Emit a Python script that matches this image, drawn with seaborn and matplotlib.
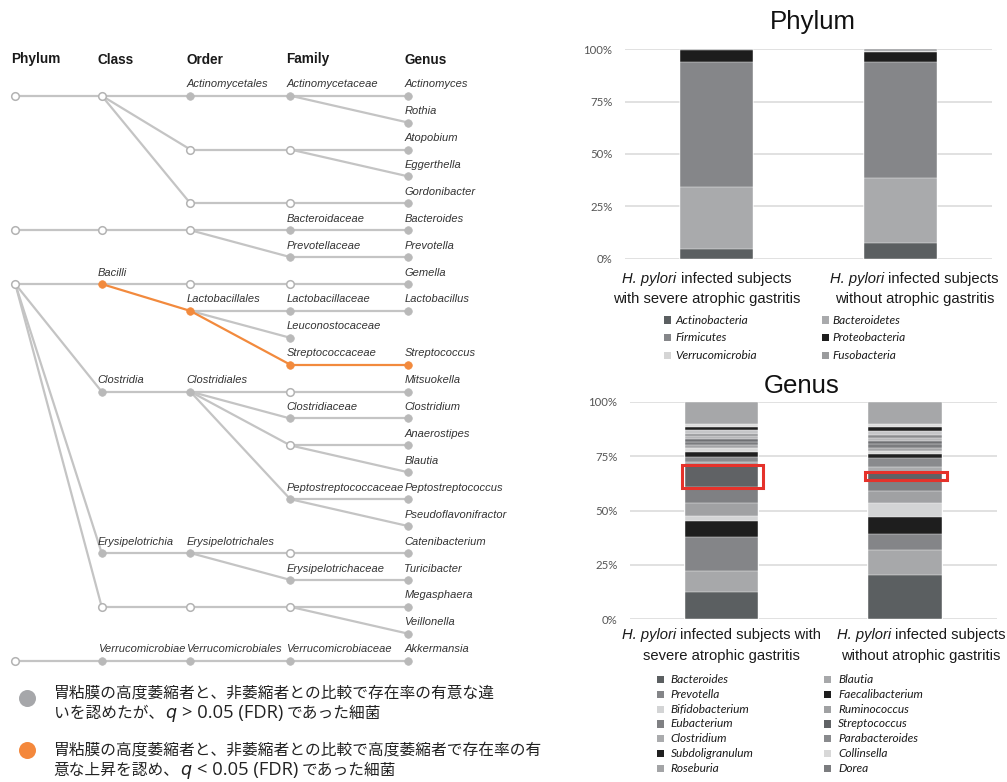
import matplotlib
matplotlib.use("Agg")
import matplotlib.pyplot as plt
from matplotlib.transforms import IdentityTransform
from matplotlib.patches import Rectangle
import pandas as pd
import seaborn as sns

sns.set_theme(style="white")
plt.rcParams["font.family"] = ["Liberation Sans", "DejaVu Sans"]

W, H = 1007, 782

# ---------------------------------------------------------------- data
groups = ["severe", "without"]

phylum_names = ["Actinobacteria", "Bacteroidetes", "Firmicutes",
                "Proteobacteria", "Verrucomicrobia", "Fusobacteria"]
phylum_severe = [4.5, 29.9, 59.4, 5.9, 0.1, 0.2]
phylum_without = [7.6, 30.8, 55.7, 4.5, 0.6, 0.8]
phylum_colors = ["#5b5f61", "#a9aaac", "#858689", "#1d1d1d", "#d5d5d5", "#9a9b9d"]

genus_names = ["Bacteroides", "Blautia", "Prevotella", "Faecalibacterium",
               "Bifidobacterium", "Ruminococcus", "Eubacterium", "Streptococcus",
               "Clostridium", "Parabacteroides", "Subdoligranulum", "Collinsella",
               "Roseburia", "Dorea"]
genus_severe = [12.4, 9.7, 15.7, 7.6, 2.3, 6.0, 7.0, 10.0, 1.8, 2.0, 2.5, 1.7, 1.6, 1.5]
genus_without = [20.4, 11.5, 7.2, 7.8, 6.4, 5.9, 5.1, 3.2, 2.6, 4.0, 1.8, 1.4, 1.6, 1.8]
genus_colors = ["#5b5f61", "#a7a8aa", "#848588", "#1e1e1e", "#d3d4d5", "#a0a1a3",
                "#7f8083", "#606265", "#aaabad", "#898a8d", "#202020", "#d8d8d8",
                "#a3a4a6", "#7b7c7f"]

# remaining genera (not listed in the key)
minor_ids = ["minor1", "minor2", "minor3", "minor4", "minor5", "minor6", "minor7"]
minor_severe = [1.2, 1.2, 1.0, 1.9, 1.5, 1.1, 10.3]
minor_without = [1.2, 1.5, 1.6, 1.8, 1.6, 1.3, 10.3]
minor_colors = ["#6f7073", "#b6b7b9", "#8a8b8e", "#c5c6c8", "#1f1f1f", "#dcdcdc", "#a6a7a9"]

highlight_genus = "Streptococcus"

pct_ticks = [0, 25, 50, 75, 100]
pct_labels = ["0%", "25%", "50%", "75%", "100%"]

# taxonomy tree: (node id, rank index, row, label, status)
ranks = ["Phylum", "Class", "Order", "Family", "Genus"]
tree_nodes = [
    ("p1", 0, 0, "", "open"),
    ("c1", 1, 0, "", "open"),
    ("o1", 2, 0, "Actinomycetales", "ns"),
    ("f1", 3, 0, "Actinomycetaceae", "ns"),
    ("g1", 4, 0, "Actinomyces", "ns"),
    ("g2", 4, 1, "Rothia", "ns"),
    ("o2", 2, 2, "", "open"),
    ("f2", 3, 2, "", "open"),
    ("g3", 4, 2, "Atopobium", "ns"),
    ("g4", 4, 3, "Eggerthella", "ns"),
    ("o3", 2, 4, "", "open"),
    ("f3", 3, 4, "", "open"),
    ("g5", 4, 4, "Gordonibacter", "ns"),
    ("p2", 0, 5, "", "open"),
    ("c2", 1, 5, "", "open"),
    ("o4", 2, 5, "", "open"),
    ("f4", 3, 5, "Bacteroidaceae", "ns"),
    ("g6", 4, 5, "Bacteroides", "ns"),
    ("f5", 3, 6, "Prevotellaceae", "ns"),
    ("g7", 4, 6, "Prevotella", "ns"),
    ("p3", 0, 7, "", "open"),
    ("c3", 1, 7, "Bacilli", "sig"),
    ("o5", 2, 7, "", "open"),
    ("f6", 3, 7, "", "open"),
    ("g8", 4, 7, "Gemella", "ns"),
    ("o6", 2, 8, "Lactobacillales", "sig"),
    ("f7", 3, 8, "Lactobacillaceae", "ns"),
    ("g9", 4, 8, "Lactobacillus", "ns"),
    ("f8", 3, 9, "Leuconostocaceae", "ns"),
    ("f9", 3, 10, "Streptococcaceae", "sig"),
    ("g10", 4, 10, "Streptococcus", "sig"),
    ("c4", 1, 11, "Clostridia", "ns"),
    ("o7", 2, 11, "Clostridiales", "ns"),
    ("f10", 3, 11, "", "open"),
    ("g11", 4, 11, "Mitsuokella", "ns"),
    ("f11", 3, 12, "Clostridiaceae", "ns"),
    ("g12", 4, 12, "Clostridium", "ns"),
    ("f12", 3, 13, "", "open"),
    ("g13", 4, 13, "Anaerostipes", "ns"),
    ("g14", 4, 14, "Blautia", "ns"),
    ("f13", 3, 15, "Peptostreptococcaceae", "ns"),
    ("g15", 4, 15, "Peptostreptococcus", "ns"),
    ("g16", 4, 16, "Pseudoflavonifractor", "ns"),
    ("c5", 1, 17, "Erysipelotrichia", "ns"),
    ("o8", 2, 17, "Erysipelotrichales", "ns"),
    ("f14", 3, 17, "", "open"),
    ("g17", 4, 17, "Catenibacterium", "ns"),
    ("f15", 3, 18, "Erysipelotrichaceae", "ns"),
    ("g18", 4, 18, "Turicibacter", "ns"),
    ("c6", 1, 19, "", "open"),
    ("o9", 2, 19, "", "open"),
    ("f16", 3, 19, "", "open"),
    ("g19", 4, 19, "Megasphaera", "ns"),
    ("g20", 4, 20, "Veillonella", "ns"),
    ("p4", 0, 21, "", "open"),
    ("c7", 1, 21, "Verrucomicrobiae", "ns"),
    ("o10", 2, 21, "Verrucomicrobiales", "ns"),
    ("f17", 3, 21, "Verrucomicrobiaceae", "ns"),
    ("g21", 4, 21, "Akkermansia", "ns"),
]
tree_edges = [
    ("p1", "c1"), ("c1", "o1"), ("o1", "f1"), ("f1", "g1"), ("f1", "g2"),
    ("c1", "o2"), ("o2", "f2"), ("f2", "g3"), ("f2", "g4"),
    ("c1", "o3"), ("o3", "f3"), ("f3", "g5"),
    ("p2", "c2"), ("c2", "o4"), ("o4", "f4"), ("f4", "g6"), ("o4", "f5"), ("f5", "g7"),
    ("p3", "c3"), ("c3", "o5"), ("o5", "f6"), ("f6", "g8"),
    ("c3", "o6"), ("o6", "f7"), ("f7", "g9"), ("o6", "f8"), ("o6", "f9"), ("f9", "g10"),
    ("p3", "c4"), ("c4", "o7"), ("o7", "f10"), ("f10", "g11"),
    ("o7", "f11"), ("f11", "g12"), ("o7", "f12"), ("f12", "g13"), ("f12", "g14"),
    ("o7", "f13"), ("f13", "g15"), ("f13", "g16"),
    ("p3", "c5"), ("c5", "o8"), ("o8", "f14"), ("f14", "g17"), ("o8", "f15"), ("f15", "g18"),
    ("p3", "c6"), ("c6", "o9"), ("o9", "f16"), ("f16", "g19"), ("f16", "g20"),
    ("p4", "c7"), ("c7", "o10"), ("o10", "f17"), ("f17", "g21"),
]

key_texts = [
    [[("胃粘膜の高度萎縮者と、非萎縮者との比較で存在率の有意な違", "jp")],
     [("いを認めたが、", "jp"), ("q", "q"), (" > 0.05 (FDR)", "lat"), (" であった細菌", "jp")]],
    [[("胃粘膜の高度萎縮者と、非萎縮者との比較で高度萎縮者で存在率の有", "jp")],
     [("意な上昇を認め、", "jp"), ("q", "q"), (" < 0.05 (FDR)", "lat"), (" であった細菌", "jp")]],
]

phylum_xlabels = [
    [[("H. pylori", "it"), (" infected subjects", "rm")], [("with severe atrophic gastritis", "rm")]],
    [[("H. pylori", "it"), (" infected subjects", "rm")], [("without atrophic gastritis", "rm")]],
]
genus_xlabels = [
    [[("H. pylori", "it"), (" infected subjects with", "rm")], [("severe atrophic gastritis", "rm")]],
    [[("H. pylori", "it"), (" infected subjects", "rm")], [("without atrophic gastritis", "rm")]],
]

# ---------------------------------------------------------------- figure
fig = plt.figure(figsize=(W / 100, H / 100), dpi=100)
renderer = fig.canvas.get_renderer()

GRAY_LINE = "#c4c4c4"
GRAY_NODE = "#b9b9b9"
ORANGE = "#f28a3d"

# text styles for mixed runs; "dx" nudges a run horizontally (pixels)
run_styles = {
    "rm": dict(family=["Liberation Sans"], fontsize=10.6, color="#1a1a1a"),
    "it": dict(family=["Liberation Sans"], style="italic", fontsize=10.6, color="#1a1a1a"),
    "jp": dict(family=["Noto Sans CJK JP", "DejaVu Sans"], fontsize=11.3, color="#222222"),
    "q": dict(family=["DejaVu Sans"], style="italic", fontsize=12.6, color="#222222", dx=1),
    "lat": dict(family=["Open Sans", "DejaVu Sans"], fontsize=13.2, color="#222222", dx=1),
}


def _width(s, props):
    t = fig.text(0, 0, s, transform=IdentityTransform(), **props)
    w = t.get_window_extent(renderer).width
    t.remove()
    return w


def text_runs(x, y, runs, align="left"):
    """Write mixed-style runs on one baseline; x, y in pixels from top-left."""
    pieces = []
    for s, key in runs:
        props = dict(run_styles[key])
        dx = props.pop("dx", 0)
        lead = len(s) - len(s.lstrip(" "))
        gap = dx + lead * (_width("n n", props) - _width("nn", props))
        body = s.strip(" ")
        pieces.append((gap, body, props, _width(body, props)))
    total = sum(g + w for g, _, _, w in pieces)
    cur = x - total / 2 if align == "center" else x
    for gap, body, props, w in pieces:
        cur += gap
        fig.text(cur, H - y, body, transform=IdentityTransform(),
                 va="baseline", ha="left", **props)
        cur += w


def px_axes(left, top, right, bottom):
    return fig.add_axes([left / W, 1 - bottom / H, (right - left) / W, (bottom - top) / H])


# ---------------------------------------------------------------- tree
ax_t = fig.add_axes([0, 0, 1, 1])
ax_t.set_xlim(0, W)
ax_t.set_ylim(H, 0)
ax_t.axis("off")

rank_x = [15.3, 101.7, 190.3, 290.3, 408.3]
row_y0, row_dy = 95.7, 26.9
nodes = pd.DataFrame(tree_nodes, columns=["id", "rank", "row", "label", "status"]).set_index("id")
nodes["x"] = [rank_x[r] for r in nodes["rank"]]
nodes["y"] = row_y0 + row_dy * nodes["row"]

for name, x in zip(ranks, rank_x):
    ax_t.text(x - 4, 59.5, name, fontsize=9.8, fontweight="bold", color="#1a1a1a",
              ha="left", va="center")

for highlighted in (False, True):
    for a, b in tree_edges:
        sig = nodes.at[a, "status"] == "sig" and nodes.at[b, "status"] == "sig"
        if sig != highlighted:
            continue
        ax_t.plot([nodes.at[a, "x"], nodes.at[b, "x"]], [nodes.at[a, "y"], nodes.at[b, "y"]],
                  color=ORANGE if sig else GRAY_LINE, lw=1.6, solid_capstyle="round", zorder=2)

node_style = {
    "open": dict(facecolor="white", edgecolor="#b3b3b3", linewidth=1.1),
    "ns": dict(facecolor=GRAY_NODE, edgecolor=GRAY_NODE, linewidth=0.5),
    "sig": dict(facecolor=ORANGE, edgecolor=ORANGE, linewidth=0.5),
}
for status, sty in node_style.items():
    sub = nodes[nodes["status"] == status]
    ax_t.scatter(sub["x"], sub["y"], s=30, zorder=3, **sty)

for _, n in nodes[nodes["label"] != ""].iterrows():
    ax_t.text(n["x"] - 4, n["y"] - 11.4, n["label"], fontsize=8, style="italic",
              color="#333333", ha="left", va="center")

# significance key
for (dot_color, lines), dot_y, base_y in zip(
        zip(["#a6a7aa", "#f4883c"], key_texts), [697.5, 750.0], [697.5, 754.5]):
    ax_t.scatter([26.7], [dot_y], s=150, color=dot_color, zorder=3, linewidths=0)
    for k, runs in enumerate(lines):
        text_runs(53.5, base_y + 20.5 * k, runs)


# ---------------------------------------------------------------- stacked bars
def draw_stack(ax, names, per_group, colors):
    rows = []
    for g, vals in zip(groups, per_group):
        cum = 0.0
        for name, v in zip(names, vals):
            rows.append({"group": g, "taxon": name, "share": v, "base": cum, "top": cum + v})
            cum += v
    df = pd.DataFrame(rows)
    for name, color in reversed(list(zip(names, colors))):
        sns.barplot(data=df[df["taxon"] == name], x="group", y="top", order=groups,
                    color=color, saturation=1, width=0.4, errorbar=None,
                    edgecolor="white", linewidth=0.3, ax=ax)
    ax.set_xlim(-0.5, 1.5)
    ax.set_ylim(0, 100)
    ax.set_yticks(pct_ticks)
    ax.set_yticklabels(pct_labels, family=["Lato", "DejaVu Sans"], fontsize=8.2, color="#555555")
    ax.tick_params(axis="y", length=0, pad=9)
    ax.set_xticks([])
    ax.set_xlabel("")
    ax.set_ylabel("")
    ax.yaxis.grid(True, color="#d9d9d9", lw=1.1)
    ax.set_axisbelow(True)
    ax.set_facecolor("none")
    for sp in ax.spines.values():
        sp.set_visible(False)
    return df


def draw_key(names, colors, sq_x, txt_x, y0, dy):
    for k, (name, color) in enumerate(zip(names, colors)):
        r, c = divmod(k, 2)
        y = y0 + dy * r
        fig.add_artist(Rectangle((sq_x[c] - 3.6, H - y - 3.6), 7.2, 7.2, transform=IdentityTransform(),
                                 facecolor=color, edgecolor="none"))
        fig.text(txt_x[c], H - y, name, transform=IdentityTransform(), family=["Lato", "DejaVu Sans"],
                 style="italic", fontsize=8.6, color="#1a1a1a", ha="left", va="center")


def draw_xlabels(ax, labels, offsets, base1, base2):
    for i, (lines, off) in enumerate(zip(labels, offsets)):
        cx = ax.transData.transform((i, 0))[0] + off
        text_runs(cx, base1, lines[0], align="center")
        text_runs(cx, base2, lines[1], align="center")


# Phylum panel
ax_p = px_axes(625, 49.3, 992, 258.7)
draw_stack(ax_p, phylum_names, [phylum_severe, phylum_without], phylum_colors)
fig.text(813 / W, 1 - 28.5 / H, "Phylum", fontsize=18.6, color="#111111", ha="center", va="baseline")
draw_xlabels(ax_p, phylum_xlabels, [-10, 14], 282.5, 303.5)
draw_key(phylum_names, phylum_colors, [667.3, 825.7], [675.3, 832.7], 320.0, 17.7)

# Genus panel
ax_g = px_axes(630, 402, 996.7, 619.3)
genus_df = draw_stack(ax_g, genus_names + minor_ids,
                      [genus_severe + minor_severe, genus_without + minor_without],
                      genus_colors + minor_colors)
fig.text(801.5 / W, 1 - 393.3 / H, "Genus", fontsize=18.6, color="#111111", ha="center", va="baseline")
draw_xlabels(ax_g, genus_xlabels, [0, 16], 639.3, 660.0)
draw_key(genus_names, genus_colors, [660.3, 827.7], [670.7, 838.0], 679.7, 14.75)

# outline the highlighted genus in both bars
hl = genus_df[genus_df["taxon"] == highlight_genus]
for i, g in enumerate(groups):
    seg = hl[hl["group"] == g].iloc[0]
    ax_g.add_patch(Rectangle((i - 0.217, seg["base"] - 0.4), 0.444, seg["share"] + 0.8,
                             fill=False, edgecolor="#e5322b", linewidth=2.2, zorder=10, clip_on=False))

fig.savefig("out.png", dpi=100)
